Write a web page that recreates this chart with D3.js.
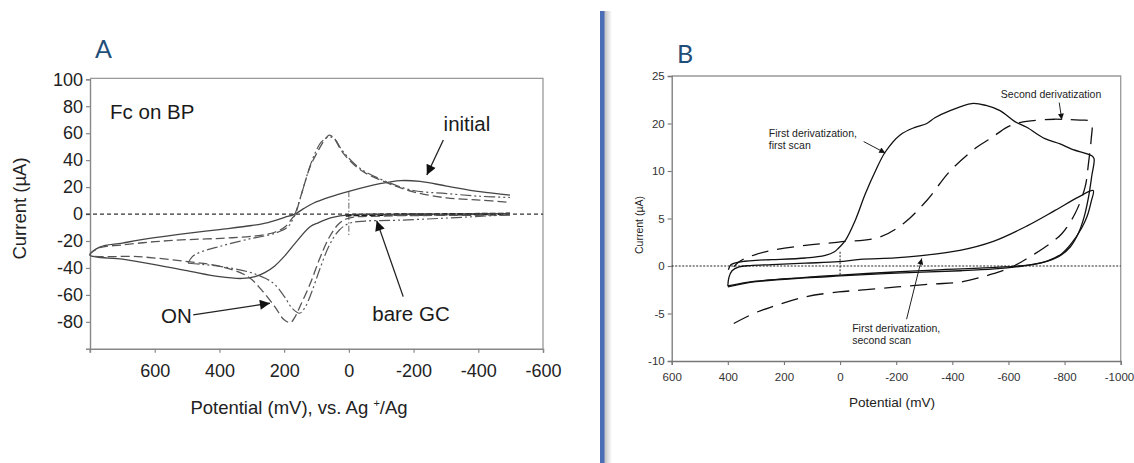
<!DOCTYPE html>
<html><head><meta charset="utf-8">
<script src="https://cdn.jsdelivr.net/npm/d3@7"></script>
<style>
html,body{margin:0;padding:0;background:#fff;}
svg{display:block;font-family:"Liberation Sans",Arial,sans-serif;}
</style></head>
<body><svg id="c" width="1134" height="463"></svg>
<script>
// ---------- Panel A data: potential (mV) vs current (µA) ----------
const aXTicks = [600, 400, 200, 0, -200, -400, -600];
const aYTicks = [-80, -60, -40, -20, 0, 20, 40, 60, 80, 100];
// "initial" (solid) : return branch then forward branch
const aInitial = [
  [-498,0.3],[-300,0],[-100,-0.2],[0,-0.6],[50,-2.5],[95,-6.5],[120,-9.5],[167,-22],[198,-31],
  [229,-38.5],[260,-43.5],[290,-46.5],[330,-47.8],[400,-46.5],[500,-42],[600,-37.5],[700,-33.5],[800,-30.4],
  [770,-24.5],[700,-21.5],[600,-17.5],[500,-14.3],[400,-11.5],[300,-8.5],[250,-6.3],[200,-2.6],[167,0],
  [140,4],[110,8],[60,12.5],[0,16.8],[-96,22.5],[-160,24.8],[-220,24.2],[-302,20.8],[-405,16.6],[-498,14]
];
// "ON" (long dash)
const aOn = [
  [-498,-0.8],[-300,-1],[-100,-1.5],[0,-3],[30,-7],[60,-17],[90,-33],[120,-52],[150,-68],[168,-77],[180,-80.5],
  [200,-78.5],[229,-68.7],[270,-56.3],[312,-46.4],[394,-39],[497,-35.3],[652,-31.6],[800,-30.4],
  [770,-25],[702,-23],[600,-20.5],[500,-19],[394,-18],[291,-16.3],[229,-13.5],[195,-9],[175,-3],[167,-1],
  [150,12],[135,24],[120,35],[95,47],[75,55],[60,58.5],[45,56],[20,46],[-34,33],[-117,23.3],
  [-199,16.5],[-302,12],[-405,10.4],[-498,8.6]
];
// dash-dot-dot curve: forward branch and return branch
const aDashDotFwd = [
  [497,-36.5],[485,-32],[466,-29],[394,-23.7],[312,-18.7],[229,-14.3],[188,-9.4],[170,-2],[155,8],
  [140,20],[125,32],[105,45],[85,53.5],[62,57.3],[45,56],[20,47],[-34,34],[-117,24],[-199,17.5],
  [-302,15.2],[-405,13.2],[-498,12.3]
];
const aDashDotRev = [
  [-498,-0.5],[-300,-3],[-150,-4.6],[-50,-5.2],[0,-7],[30,-12],[60,-23],[90,-41],[115,-58],[135,-69],
  [152,-73.6],[175,-70],[199,-61.3],[230,-52],[260,-47.5],[312,-42.8],[394,-39],[460,-37.2],[497,-36.5]
];
// bare GC (thick dashes)
const aBare = [[10,-1.2],[0,-0.9],[-100,-0.5],[-300,-0.2],[-498,0.2]];

// ---------- Panel B data ----------
const bXTicks = [600, 400, 200, 0, -200, -400, -600, -800, -1000];
const bYTicks = [-10, -5, 0, 5, 10, 15, 20];
const bYTickLabels = ["-10", "-5", "0", "5", "10", "20", "25"];
const bFirstScan = [
  [398,-0.4],[390,0.1],[370,0.35],[340,0.5],[300,0.6],[243,0.67],[124,0.84],[53,1.12],[20,1.5],[5,1.9],
  [-19,2.7],[-54,4.8],[-90,7.6],[-126,10],[-161,12],[-214,13.8],[-267,14.6],[-309,15],[-338,15.6],
  [-392,16.35],[-469,17.1],[-520,16.9],[-570,16.35],[-623,15.2],[-665,14.6],[-730,13.4],[-784,12.85],
  [-825,12.3],[-897,11.6],[-905,11.3],[-897,9.5],[-885,7.2],[-870,5.2],[-850,3.5],[-820,2.0],[-780,1.0],
  [-720,0.35],[-650,0.0],[-550,-0.3],[-430,-0.5],[-200,-0.75],[0,-1.05],[124,-1.25],[300,-1.65],[400,-2.2]
];
const bSecondScan = [
  [400,-2.1],[396,-1.2],[385,-0.5],[360,-0.1],[320,0.05],[243,0.15],[124,0.3],[5,0.45],[-71,0.7],
  [-196,0.85],[-291,1.1],[-427,1.65],[-546,2.6],[-665,4.2],[-766,5.85],[-849,7.25],[-902,7.95],
  [-895,6.8],[-880,5.2],[-861,4.0],[-825,2.4],[-790,1.3],[-740,0.55],[-671,0.1],[-552,-0.15],
  [-314,-0.45],[-196,-0.63],[0,-0.95],[124,-1.2],[300,-1.6],[400,-2.1]
];
const bSecondDeriv = [
  [379,-6.05],[300,-4.9],[243,-4.3],[124,-3.25],[5,-2.73],[-71,-2.55],[-203,-2.2],[-330,-1.9],
  [-427,-1.7],[-500,-1.2],[-546,-0.8],[-606,-0.2],[-650,0.5],[-695,1.3],[-750,2.4],[-790,3.4],
  [-837,5.5],[-873,8.3],[-885,10.75],[-895,13.4],[-897,14.9],[-885,15.3],[-855,15.35],[-766,15.45],
  [-724,15.4],[-641,15.1],[-594,14.6],[-540,13.5],[-487,12.5],[-392,10],[-309,6.9],[-225,4.45],
  [-142,3.05],[5,2.52],[124,2.17],[243,1.65],[326,0.95],[361,0.42],[379,-0.1]
];

// ---------- drawing ----------
const svg = d3.select("#c");
const fmt = d => String(d);
const line = (x, y) => d3.line().x(d => x(d[0])).y(d => y(d[1])).curve(d3.curveCatmullRom.alpha(0.5));

// separator
const defs = svg.append("defs");
const g = defs.append("linearGradient").attr("id","sh").attr("x1","0").attr("x2","1");
g.append("stop").attr("offset","0").attr("stop-color","#bdbdbd");
g.append("stop").attr("offset","1").attr("stop-color","#ffffff");
const mk = (id, w, h) => defs.append("marker").attr("id", id).attr("viewBox", "0 0 10 10")
  .attr("refX", 10).attr("refY", 5).attr("markerWidth", w).attr("markerHeight", h)
  .attr("markerUnits","userSpaceOnUse").attr("orient", "auto")
  .append("path").attr("d", "M0,0L10,5L0,10Z").attr("fill", "#111");
mk("arA", 12, 10); mk("arB", 7, 6);

svg.append("rect").attr("x",604).attr("y",11).attr("width",8).attr("height",452).attr("fill","url(#sh)");
svg.append("rect").attr("x",600).attr("y",11).attr("width",4.5).attr("height",452).attr("fill","#4a6db5");

// ===== Panel A =====
const xA = d3.scaleLinear().domain([800, -600]).range([90, 543]);
const yA = d3.scaleLinear().domain([-100, 100]).range([348.8, 79.3]);
const A = svg.append("g");
A.append("text").attr("x",95).attr("y",58).attr("fill","#1f4e79").attr("font-family","Lato,'Open Sans',sans-serif")
  .attr("font-size",25).text("A");
A.append("path").attr("d",`M${xA(800)},${yA(100)-1}H${xA(-600)}V${yA(-100)}`).attr("fill","none").attr("stroke","#999").attr("stroke-width",1.3);
const axA = A.append("g").attr("transform",`translate(0,${yA(-100)})`)
  .call(d3.axisBottom(xA).tickValues(aXTicks).tickSize(4).tickPadding(11).tickFormat(fmt));
const ayA = A.append("g").attr("transform",`translate(${xA(800)},0)`)
  .call(d3.axisLeft(yA).tickValues(aYTicks).tickSize(4).tickPadding(3).tickFormat(fmt));
[axA, ayA].forEach(s => {
  s.select(".domain").attr("stroke","#888").attr("stroke-width",1.4);
  s.selectAll(".tick line").attr("stroke","#888").attr("stroke-width",1.2);
  s.selectAll("text").attr("font-size",18).attr("fill","#222").attr("font-family","'Liberation Sans',Arial,sans-serif");
});
A.append("line").attr("x1",xA(800)).attr("x2",xA(800)).attr("y1",yA(-100)).attr("y2",yA(-100)+4).attr("stroke","#888");
A.append("line").attr("x1",xA(800)-4).attr("x2",xA(-600)).attr("y1",yA(0)).attr("y2",yA(0))
  .attr("stroke","#333").attr("stroke-width",1.2).attr("stroke-dasharray","4,3");
A.append("line").attr("x1",xA(0)).attr("x2",xA(0)).attr("y1",yA(17)).attr("y2",yA(-16))
  .attr("stroke","#666").attr("stroke-width",1).attr("stroke-dasharray","6,2,1.5,2");
const lA = line(xA, yA);
A.append("path").attr("d",lA(aBare)).attr("fill","none").attr("stroke","#111").attr("stroke-width",2.4).attr("stroke-dasharray","6,2");
A.append("path").attr("d",lA(aInitial)).attr("fill","none").attr("stroke","#444").attr("stroke-width",1.3);
A.append("path").attr("d",lA(aOn)).attr("fill","none").attr("stroke","#555").attr("stroke-width",1.3).attr("stroke-dasharray","9,4");
[aDashDotFwd, aDashDotRev].forEach(arr =>
  A.append("path").attr("d",lA(arr)).attr("fill","none").attr("stroke","#555").attr("stroke-width",1.2).attr("stroke-dasharray","11,3,2,3,2,3"));
const tA = (x,y,s,anchor) => A.append("text").attr("x",xA(x)).attr("y",yA(y)).attr("font-size",20.5).attr("fill","#1a1a1a").attr("text-anchor",anchor||"start").text(s);
tA(738, 70.2, "Fc on BP");
tA(-365, 61.6, "initial", "middle");
tA(533, -80.6, "ON", "middle");
tA(-192, -79.7, "bare GC", "middle");
const arA = (x1,y1,x2,y2) => A.append("line").attr("x1",xA(x1)).attr("y1",yA(y1)).attr("x2",xA(x2)).attr("y2",yA(y2))
  .attr("stroke","#222").attr("stroke-width",1.3).attr("marker-end","url(#arA)");
arA(-292, 55, -241, 29);
arA(481, -74.9, 244, -66.2);
arA(-168, -61.3, -86, -4.9);
const xt = A.append("text").attr("x",299).attr("y",414).attr("text-anchor","middle").attr("font-size",18.5).attr("fill","#222");
xt.append("tspan").text("Potential (mV), vs. Ag ");
xt.append("tspan").attr("font-size",11).attr("dy",-7).text("+");
xt.append("tspan").attr("dy",7).text("/Ag");
A.append("text").attr("transform","translate(26,208.5) rotate(-90)").attr("text-anchor","middle")
  .attr("font-size",18.5).attr("fill","#222").text("Current (µA)");

// ===== Panel B =====
const xB = d3.scaleLinear().domain([600, -1000]).range([671.7, 1120.7]);
const yB = d3.scaleLinear().domain([-10, 20]).range([361, 76]);
const B = svg.append("g");
B.append("text").attr("x",677).attr("y",63).attr("fill","#1f4e79").attr("font-family","Lato,'Open Sans',sans-serif")
  .attr("font-size",25).text("B");
B.append("path").attr("d",`M${xB(600)},${yB(20)}H${xB(-1000)}V${yB(-10)}`).attr("fill","none").attr("stroke","#999").attr("stroke-width",1.3);
const axB = B.append("g").attr("transform",`translate(0,${yB(-10)})`)
  .call(d3.axisBottom(xB).tickValues(bXTicks).tickSize(4).tickPadding(8).tickFormat(fmt));
const ayB = B.append("g").attr("transform",`translate(${xB(600)},0)`)
  .call(d3.axisLeft(yB).tickValues(bYTicks).tickSize(4).tickPadding(3).tickFormat((d,i) => bYTickLabels[i]));
[axB, ayB].forEach(s => {
  s.select(".domain").attr("stroke","#777").attr("stroke-width",1.3);
  s.selectAll(".tick line").attr("stroke","#777").attr("stroke-width",1.1);
  s.selectAll("text").attr("font-size",11.5).attr("fill","#333").attr("font-family","'Liberation Sans',Arial,sans-serif");
});
// keep the last x label inside the window
axB.selectAll(".tick text").filter(d => d === -1000).attr("text-anchor","end").attr("x",13);
B.append("line").attr("x1",xB(600)).attr("x2",xB(-1000)).attr("y1",yB(0)).attr("y2",yB(0))
  .attr("stroke","#222").attr("stroke-width",1).attr("stroke-dasharray","2,1.5");
B.append("line").attr("x1",xB(0)).attr("x2",xB(0)).attr("y1",yB(1.5)).attr("y2",yB(-1))
  .attr("stroke","#222").attr("stroke-width",1).attr("stroke-dasharray","2,1.5");
const lB = line(xB, yB);
B.append("path").attr("d",lB(bSecondScan)).attr("fill","none").attr("stroke","#111").attr("stroke-width",1.3);
B.append("path").attr("d",lB(bFirstScan)).attr("fill","none").attr("stroke","#111").attr("stroke-width",1.3);
B.append("path").attr("d",lB(bSecondDeriv)).attr("fill","none").attr("stroke","#111").attr("stroke-width",1.3).attr("stroke-dasharray","17,9");
const tB = (x,y,s) => B.append("text").attr("x",xB(x)).attr("y",yB(y)).attr("font-size",10.5).attr("fill","#222").text(s);
tB(-573, 17.7, "Second derivatization");
tB(254, 13.6, "First derivatization,");
tB(254, 12.35, "first scan");
tB(-43, -6.9, "First derivatization,");
tB(-43, -8.2, "second scan");
const arB = (x1,y1,x2,y2) => B.append("line").attr("x1",xB(x1)).attr("y1",yB(y1)).attr("x2",xB(x2)).attr("y2",yB(y2))
  .attr("stroke","#222").attr("stroke-width",1).attr("marker-end","url(#arB)");
arB(-781, 17.2, -790, 15.4);
arB(-84, 13.1, -161, 11.9);
arB(-237, -5.6, -291, 0.8);
B.append("text").attr("x",892).attr("y",407).attr("text-anchor","middle").attr("font-size",13.6).attr("fill","#222").text("Potential (mV)");
B.append("text").attr("transform","translate(643,225) rotate(-90)").attr("text-anchor","middle")
  .attr("font-size",10.5).attr("fill","#222").text("Current (µA)");
</script></body></html>
